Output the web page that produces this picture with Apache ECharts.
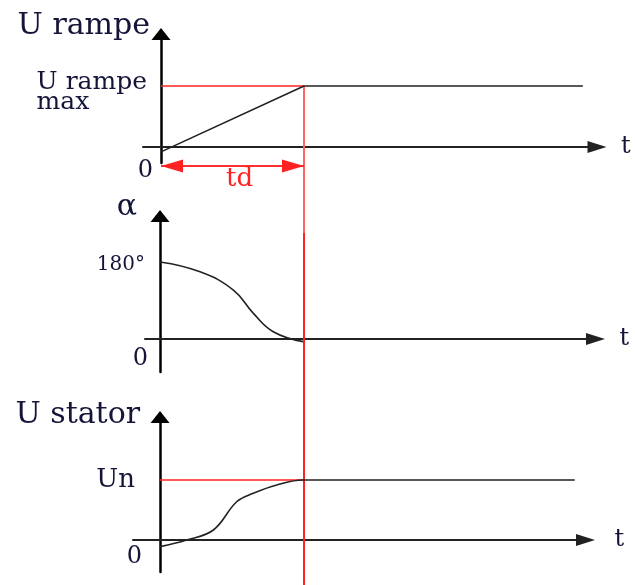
<!DOCTYPE html>
<html>
<head>
<meta charset="utf-8">
<script src="https://cdn.jsdelivr.net/npm/echarts@6/dist/echarts.min.js"></script>
<style>
html,body{margin:0;padding:0;background:#fff;}
#chart{width:635px;height:585px;}
</style>
</head>
<body>
<div id="chart"></div>
<script>
// ---- data ----
const tdValue = 10;            // end of ramp time td
const rampeTicks = [0, 1];
const rampeTickLabels = ['0', 'U rampe\nmax'];
const rampeT = [0, 10, 29.5];
const rampeV = [-0.08, 1, 1];
const rampeMaxLineT = [0, 10];
const rampeMaxLineV = [1, 1];

const alphaTicks = [0, 180];
const alphaTickLabels = ['0', '180°'];
const alphaT = [0, 2.8, 5.13, 6.53, 7.92, 10.0];
const alphaV = [180, 157, 114.5, 60, 17, -6];

const statorTicks = [0, 1];
const statorTickLabels = ['0', 'Un'];
const statorT = [0, 1.86, 3.73, 5.36, 6.52, 8.16, 10.0, 29.0];
const statorV = [-0.11, 0, 0.167, 0.638, 0.778, 0.917, 1, 1];
const unLineT = [0, 10];
const unLineV = [1, 1];

const tdMarkerY = -0.31;        // level of the td dimension arrow (ramp units)
const tdArrowT = [0, tdValue];
const markerTop = 1;            // red marker starts at U rampe max
const markerFadeEnd = -1.41;
const markerBottom = -7.18;

const axisNames = ['U rampe', 'α', 'U stator'];
const timeName = 't';
const tdLabel = 'td';

// ---- styles ----
const FONT = 'DejaVu Serif';
const TXT = '#15153a';
const RED = '#ff2222';

function pairs(a, b) { return a.map((v, i) => [v, b[i]]); }

function xAx(grid, min, max, gap, show) {
  return {
    type: 'value', gridIndex: grid, min: min, max: max, show: show !== false,
    name: show === false ? '' : timeName, nameLocation: 'end', nameGap: gap,
    nameTextStyle: {fontFamily: FONT, fontSize: 24, color: TXT, verticalAlign: 'middle', padding: [0, 0, 6, 0]},
    axisLine: {onZero: true, symbol: ['none', 'triangle'], symbolSize: [12, 19], lineStyle: {color: '#222', width: 2}},
    axisTick: {show: false}, axisLabel: {show: false}, splitLine: {show: false}
  };
}
function yAx(grid, min, max, name, nameGap, namePad, ticks, fmt, rich, margin, pad) {
  return {
    type: 'value', gridIndex: grid, min: min, max: max,
    name: name, nameLocation: 'end', nameGap: nameGap,
    nameTextStyle: {fontFamily: FONT, fontSize: 30, color: TXT, align: 'right', verticalAlign: 'middle', padding: [0, namePad, 0, 0]},
    axisLine: {onZero: true, symbol: ['none', 'triangle'], symbolSize: [19, 12], lineStyle: {color: '#000', width: 2.5}},
    axisTick: {show: false},
    axisLabel: {show: true, customValues: ticks, formatter: fmt, rich: rich, margin: margin,
      padding: pad, fontFamily: FONT, color: TXT},
    splitLine: {show: false}
  };
}

const chart = echarts.init(document.getElementById('chart'));
const option = {
  animation: false,
  backgroundColor: '#fff',
  grid: [
    {left: 143, top: 34, width: 454, height: 129},
    {left: 145, top: 216, width: 450.5, height: 156},
    {left: 133, top: 417, width: 452.5, height: 155},
    {left: 143, top: 86, width: 454, height: 499}
  ],
  xAxis: [
    xAx(0, -1.26, 30.49, 24),
    xAx(1, -1.05, 30.45, 24),
    xAx(2, -1.89, 29.75, 29),
    xAx(3, -1.26, 30.49, 0, false)
  ],
  yAxis: [
    yAx(0, -0.262, 1.852, axisNames[0], 8, 11, rampeTicks,
      v => v === 0 ? '{z|' + rampeTickLabels[0] + '}' : rampeTickLabels[1].split('\n').map(s => '{a|' + s + '}').join('\n'),
      {z: {fontFamily: FONT, fontSize: 24, color: TXT, padding: [34, 0, 0, 0]},
       a: {fontFamily: FONT, fontSize: 25, color: TXT, align: 'left', lineHeight: 20, padding: [0, 6, 0, 0]}}, -10, [14, 0, 0, 0]),
    yAx(1, -77, 287.5, axisNames[1], 9, 23, alphaTicks,
      v => v === 0 ? '{z|' + alphaTickLabels[0] + '}' : '{a|' + alphaTickLabels[1] + '}',
      {z: {fontFamily: FONT, fontSize: 24, color: TXT, padding: [40, 0, 0, 0]},
       a: {fontFamily: FONT, fontSize: 20, color: TXT, padding: [6, 3, 0, 0]}}, -3, 0),
    yAx(2, -0.533, 2.05, axisNames[2], 2, 20, statorTicks,
      v => v === 0 ? '{z|' + statorTickLabels[0] + '}' : '{a|' + statorTickLabels[1] + '}',
      {z: {fontFamily: FONT, fontSize: 24, color: TXT, padding: [34, 0, 0, 0]},
       a: {fontFamily: FONT, fontSize: 26, color: TXT, padding: [0, 7, 0, 0]}}, -9, 0),
    {type: 'value', gridIndex: 3, min: markerBottom, max: markerTop, show: false, splitLine: {show: false}}
  ],
  series: [
    {type: 'line', xAxisIndex: 0, yAxisIndex: 0, data: pairs(rampeMaxLineT, rampeMaxLineV), symbol: 'none',
      lineStyle: {color: RED, width: 1.5}},
    {type: 'line', xAxisIndex: 0, yAxisIndex: 0, data: pairs(rampeT, rampeV), symbol: 'none',
      lineStyle: {color: '#222', width: 1.6}},
    {type: 'line', xAxisIndex: 1, yAxisIndex: 1, data: pairs(alphaT, alphaV), symbol: 'none', smooth: 0.45,
      lineStyle: {color: '#222', width: 1.6}},
    {type: 'line', xAxisIndex: 2, yAxisIndex: 2, data: pairs(unLineT, unLineV), symbol: 'none',
      lineStyle: {color: RED, width: 1.5}},
    {type: 'line', xAxisIndex: 2, yAxisIndex: 2, data: pairs(statorT, statorV), symbol: 'none', smooth: 0.4,
      lineStyle: {color: '#222', width: 1.6}},
    {type: 'line', xAxisIndex: 3, yAxisIndex: 3, data: [[tdValue, markerTop], [tdValue, markerFadeEnd]], symbol: 'none',
      lineStyle: {color: '#ff6666', width: 2}, z: 1},
    {type: 'line', xAxisIndex: 3, yAxisIndex: 3, data: [[tdValue, markerFadeEnd], [tdValue, markerBottom]], symbol: 'none',
      lineStyle: {color: RED, width: 2}, z: 1},
    // td dimension line with label
    {type: 'line', xAxisIndex: 3, yAxisIndex: 3, data: tdArrowT.map(t => [t, tdMarkerY]), symbol: 'none',
      lineStyle: {color: RED, width: 1.5}, z: 2,
      markLine: {
        silent: true, animation: false, symbol: ['none', 'none'],
        lineStyle: {color: RED, width: 1.5, type: 'solid'},
        label: {show: true, formatter: tdLabel, position: 'insideMiddleBottom', distance: 0,
          fontFamily: FONT, fontSize: 26, color: RED, padding: [0, 0, 0, 14]},
        data: [[{coord: [tdArrowT[0], tdMarkerY]}, {coord: [tdArrowT[1], tdMarkerY]}]]
      }},
    // td arrow heads
    {type: 'scatter', xAxisIndex: 3, yAxisIndex: 3, symbol: 'triangle', symbolSize: [13, 22], z: 3,
      itemStyle: {color: RED, opacity: 1}, silent: true,
      data: tdArrowT.map((t, i) => ({value: [t, tdMarkerY], symbolRotate: i === 0 ? 90 : -90,
        symbolOffset: i === 0 ? [11, 0] : [-11, 0]}))}
  ]
};
chart.setOption(option);
</script>
</body>
</html>
